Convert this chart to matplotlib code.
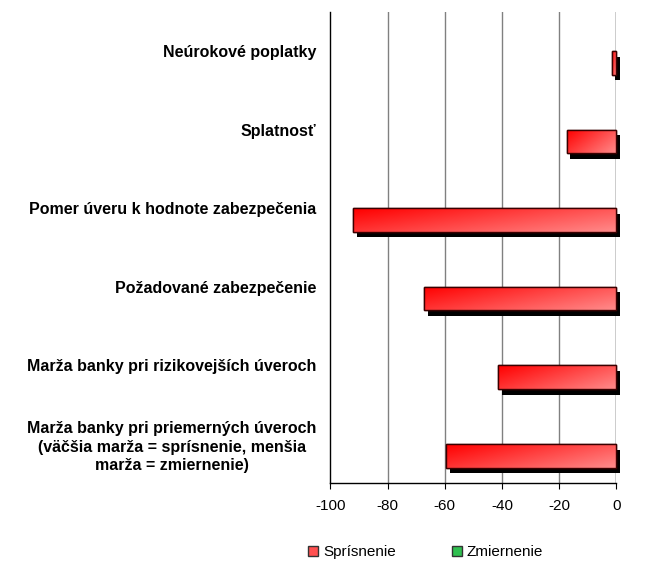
"""Zmeny úverových podmienok - sprísnenie vs. zmiernenie (horizontálny stĺpcový graf)."""

import matplotlib

matplotlib.use("Agg")
import matplotlib.pyplot as plt
import matplotlib.patheffects as pe
import numpy as np
from matplotlib.colors import LinearSegmentedColormap
from matplotlib.patches import Rectangle

plt.rcParams["font.family"] = ["Liberation Sans", "DejaVu Sans"]

KATEGORIE = [
    "Neúrokové poplatky",
    "Splatnosť",
    "Pomer úveru k hodnote zabezpečenia",
    "Požadované zabezpečenie",
    "Marža banky pri rizikovejších úveroch",
    "Marža banky pri priemerných úveroch\n(väčšia marža = sprísnenie, menšia\nmarža = zmiernenie)",
]
SPRISNENIE = [-1.6, -17.3, -92.0, -67.1, -41.3, -59.4]
ZMIERNENIE = [0, 0, 0, 0, 0, 0]
X_TICKS = [-100, -80, -60, -40, -20, 0]

VYSKA = 0.3


def gradient_bars(ax, bars, cmap):
    # gradient vnútri každého stĺpca, orezaný na tvar stĺpca
    grad = np.add.outer(np.linspace(0, 0.6, 20), np.linspace(0, 1, 60))
    for bar in bars:
        x, y = bar.get_x(), bar.get_y()
        w, h = bar.get_width(), bar.get_height()
        if w == 0:
            continue
        im = ax.imshow(grad, cmap=cmap, aspect="auto", vmin=0, vmax=1.6,
                       extent=(min(x, x + w), max(x, x + w), y + h, y),
                       zorder=3, interpolation="bilinear")
        im.set_clip_path(bar)


def main():
    fig = plt.figure(figsize=(6.5, 5.61), dpi=100)
    ax = fig.add_axes([0.5082, 0.1385, 0.44, 0.8401])

    y = np.arange(len(KATEGORIE))
    tien = [pe.SimplePatchShadow(offset=(2.5, -4), shadow_rgbFace="black", alpha=1.0),
            pe.Normal()]

    red = ax.barh(y, SPRISNENIE, height=VYSKA, align="edge", color="#ff2020",
                  edgecolor="#3a0000", linewidth=1.0, zorder=3, path_effects=tien,
                  label="Sprísnenie")
    for bar in red:
        bar.set_clip_on(False)
    green = ax.barh(y - VYSKA, ZMIERNENIE, height=VYSKA, align="edge", color="#20c040",
                    edgecolor="#003a00", linewidth=0, zorder=3, label="Zmiernenie")

    gradient_bars(ax, red, LinearSegmentedColormap.from_list("r", ["#ff0000", "#ff8a8a"]))
    gradient_bars(ax, green, LinearSegmentedColormap.from_list("g", ["#00b030", "#80e890"]))
    for bar in red:
        ax.add_patch(Rectangle((bar.get_x(), bar.get_y()), bar.get_width(), bar.get_height(),
                               fill=False, edgecolor="#3a0000", linewidth=1.0, zorder=4,
                               clip_on=False))

    ax.set_xlim(-100, 0)
    ax.set_ylim(len(KATEGORIE) - 0.5, -0.5)
    ax.set_xticks(X_TICKS)
    ax.set_xticklabels([str(t) for t in X_TICKS], fontsize=11)
    ax.tick_params(axis="x", direction="out", length=4, width=0.8, pad=7, colors="black")
    ax.set_yticks(y)
    ax.set_yticklabels(KATEGORIE, fontsize=11.5, fontweight="bold", multialignment="center",
                       linespacing=1.3)
    ax.tick_params(axis="y", length=0, pad=10)

    for t in X_TICKS[1:-1]:
        ax.axvline(t, color="#808080", linewidth=1.0, zorder=1)
    ax.axvline(0, color="black", linewidth=1.0, zorder=2)

    for side in ["top", "right"]:
        ax.spines[side].set_visible(False)
    ax.spines["left"].set_linewidth(1.0)
    ax.spines["bottom"].set_linewidth(1.0)

    handles = [Rectangle((0, 0), 1, 1, facecolor="#ff5050", edgecolor="#333333", linewidth=1.0),
               Rectangle((0, 0), 1, 1, facecolor="#30c050", edgecolor="#333333", linewidth=1.0)]
    fig.legend(handles, ["Sprísnenie", "Zmiernenie"], loc="center",
               bbox_to_anchor=(0.655, 0.016), ncol=2, frameon=False, fontsize=11,
               handlelength=0.65, handleheight=0.65, handletextpad=0.3,
               columnspacing=3.7, borderpad=0)

    fig.savefig("out.png", dpi=100)
    plt.close(fig)


if __name__ == "__main__":
    main()
